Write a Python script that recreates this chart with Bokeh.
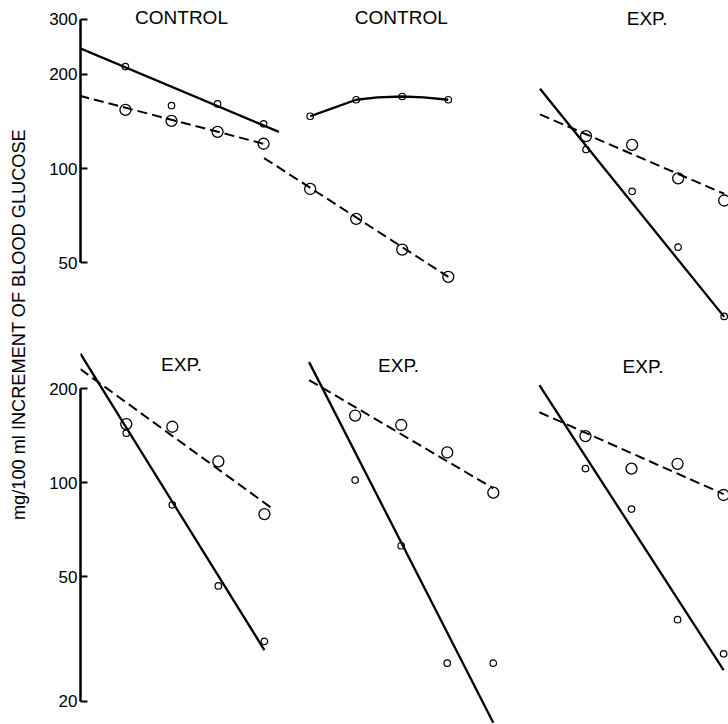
import math
from bokeh.plotting import figure
from bokeh.layouts import row, column
from bokeh.models import Range1d, FixedTicker, PrintfTickFormatter
from bokeh.core.properties import value
from bokeh.embed import file_html
from bokeh.resources import INLINE

# ---------------- data ----------------
TIMES = [30, 60, 90, 120]            # sampling times (min)
TITLES_TOP = ["CONTROL", "CONTROL", "EXP."]
TITLES_BOTTOM = ["EXP.", "EXP.", "EXP."]
TICKS_TOP = [50, 100, 200, 300]
TICKS_BOTTOM = [20, 50, 100, 200]
Y_LABEL = "mg/100 ml INCREMENT OF BLOOD GLUCOSE"

# Panel A : top left (CONTROL)
A_small = [212, 159, 161, 139]
A_large = [154, 142, 131, 120]
A_solid_t = [0, 130]
A_solid_v = [243, 131]
A_dash_t = [0, 120]
A_dash_v = [171, 120]

# Panel B : top middle (CONTROL) - solid is a curve through the points
B_small = [147, 166, 170, 166]
B_large = [86, 69, 55, 45]
B_solid_t = [30, 43, 60, 74, 90, 104, 120]
B_solid_v = [147, 155, 166, 169, 170, 169, 166]
B_dash_t = [0, 120]
B_dash_v = [108, 45]

# Panel C : top right (EXP.)
C_small = [115, 84.5, 56, 33.6]
C_large = [127, 119, 93, 79]
C_solid_t = [0, 120]
C_solid_v = [180, 33.5]
C_dash_t = [0, 120]
C_dash_v = [149, 83]

# Panel D : bottom left (EXP.)
D_small = [144, 85, 46.8, 31.1]
D_large = [154, 151, 117, 79.4]
D_solid_t = [0, 120]
D_solid_v = [259, 29.2]
D_dash_t = [0, 124]
D_dash_v = [231, 83.5]

# Panel E : bottom middle (EXP.)
E_small = [102, 62.9, 26.5, 26.5]
E_large = [164, 153, 125, 93]
E_solid_t = [0, 120]
E_solid_v = [243, 17.1]
E_dash_t = [0, 120]
E_dash_v = [213, 96]

# Panel F : bottom right (EXP.)
F_small = [111, 82.4, 36.5, 28.4]
F_large = [141, 111, 115, 91.4]
F_solid_t = [0, 120]
F_solid_v = [205, 25.2]
F_dash_t = [0, 120]
F_dash_v = [168, 92]

# ---------------- layout (pixels) ----------------
W, H = 728, 724
LABEL_W = 40
AXIS_X = 80
PX_PER_MIN = 1.535
TOP_H, BOT_H = 335, 389
TOP_YR = (29.2, 345.0)
BOT_YR = (16.88, 295.6)
TOP_X0 = [78.9, 263.6, 539.5]      # page x of t = 0 for each panel
BOT_X0 = [79.7, 308.6, 538.9]
TOP_TITLE_XY = [(181, 16.7), (400.8, 16.7), (646.7, 18)]
BOT_TITLE_XY = [(181, 364), (398, 365), (642.5, 365.5)]
FONT = "Liberation Sans"


def page_y_to_value(py, yr, h):
    lo, hi = yr
    return 10 ** (math.log10(hi) - (py / h) * (math.log10(hi) - math.log10(lo)))


def make_row(height, yr, x0s, ticks, titles, title_xy, panels, offset_y):
    p = figure(width=W - LABEL_W, height=height, y_axis_type="log",
               x_range=Range1d(0, 1), y_range=Range1d(*yr),
               x_axis_location=None, toolbar_location=None,
               output_backend="svg", min_border=0,
               min_border_left=AXIS_X - LABEL_W, min_border_right=0,
               outline_line_color=None, background_fill_color="white",
               border_fill_color="white")
    p.grid.visible = False
    names = []
    for i, x0 in enumerate(x0s):
        nm = "panel%d" % i
        names.append(nm)
        p.extra_x_ranges[nm] = Range1d((AXIS_X - x0) / PX_PER_MIN, (W - x0) / PX_PER_MIN)

    ax = p.yaxis[0]
    ax.ticker = FixedTicker(ticks=ticks, minor_ticks=[])
    ax.formatter = PrintfTickFormatter(format="%d")
    ax.bounds = (min(ticks), max(ticks))
    ax.axis_line_width = 2.5
    ax.axis_line_color = "black"
    ax.major_tick_line_width = 2
    ax.major_tick_line_color = "black"
    ax.major_tick_in = 7
    ax.major_tick_out = 0
    ax.minor_tick_in = 0
    ax.minor_tick_out = 0
    ax.major_label_standoff = 3
    ax.major_label_text_font = FONT
    ax.major_label_text_font_size = "17px"
    ax.major_label_text_color = "black"

    for nm, x0, title, (tx, ty), pan in zip(names, x0s, titles, title_xy, panels):
        small, large, st, sv, dt, dv = pan
        p.line(st, sv, line_width=2.3, line_color="black", x_range_name=nm)
        p.line(dt, dv, line_width=2.0, line_color="black", line_dash="10 5",
               x_range_name=nm)
        p.scatter(TIMES, large, marker="circle", size=11, fill_color=None,
                  line_color="black", line_width=1.3, x_range_name=nm)
        p.scatter(TIMES, small, marker="circle", size=6.5, fill_color=None,
                  line_color="black", line_width=1.2, x_range_name=nm)
        p.text(x=[(tx - x0) / PX_PER_MIN],
               y=[page_y_to_value(ty - offset_y, yr, height)],
               text=[title], x_range_name=nm,
               text_font=value(FONT), text_font_size="19px",
               text_align="center", text_baseline="middle", text_color="black")
    return p


top = make_row(TOP_H, TOP_YR, TOP_X0, TICKS_TOP, TITLES_TOP, TOP_TITLE_XY,
               [(A_small, A_large, A_solid_t, A_solid_v, A_dash_t, A_dash_v),
                (B_small, B_large, B_solid_t, B_solid_v, B_dash_t, B_dash_v),
                (C_small, C_large, C_solid_t, C_solid_v, C_dash_t, C_dash_v)], 0)
bot = make_row(BOT_H, BOT_YR, BOT_X0, TICKS_BOTTOM, TITLES_BOTTOM, BOT_TITLE_XY,
               [(D_small, D_large, D_solid_t, D_solid_v, D_dash_t, D_dash_v),
                (E_small, E_large, E_solid_t, E_solid_v, E_dash_t, E_dash_v),
                (F_small, F_large, F_solid_t, F_solid_v, F_dash_t, F_dash_v)], TOP_H)

lab = figure(width=LABEL_W, height=H, x_range=Range1d(0, LABEL_W),
             y_range=Range1d(0, H), x_axis_location=None, y_axis_location=None,
             toolbar_location=None, output_backend="svg", min_border=0,
             outline_line_color=None)
lab.grid.visible = False
lab.text(x=[18], y=[H - 324], text=[Y_LABEL], angle=math.pi / 2,
         text_font=value(FONT), text_font_size="18.2px",
         text_align="center", text_baseline="middle", text_color="black")

layout = row(lab, column(top, bot))
open("out.html", "w").write(file_html(layout, INLINE))
